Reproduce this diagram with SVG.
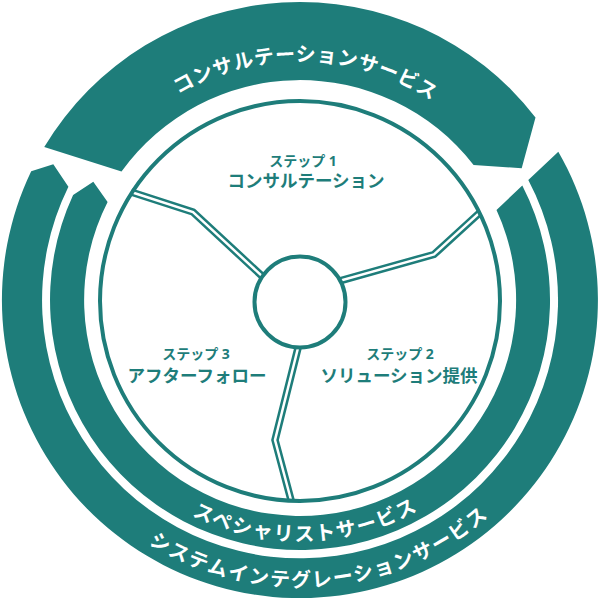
<svg xmlns="http://www.w3.org/2000/svg" width="600" height="600" viewBox="0 0 600 600">
<style>
.band{fill:#1e7d7a}
.ring-label{font-family:'Noto Sans','Noto Sans CJK JP',sans-serif;font-weight:700;font-size:20px;fill:#ffffff;text-anchor:middle}
.step{font-family:'Noto Sans','Noto Sans CJK JP',sans-serif;font-weight:700;font-size:14px;fill:#1e7d7a;text-anchor:middle}
.title{font-family:'Noto Sans','Noto Sans CJK JP',sans-serif;font-weight:700;font-size:17.5px;fill:#1e7d7a;text-anchor:middle}
.spoke-out{fill:none;stroke:#1e7d7a;stroke-width:7.5;stroke-linejoin:miter}
.spoke-in{fill:none;stroke:#ffffff;stroke-width:2.5;stroke-linejoin:miter}
.ring-line{fill:none;stroke:#1e7d7a;stroke-width:4}
</style>
<defs>
<path id="topTextPath" d="M61,300 A239,239 0 0 1 539,300"/>
<path id="midTextPath" d="M59,300 A241,241 0 0 0 541,300"/>
<path id="outerTextPath" d="M13,300 A287,287 0 0 0 587,300"/>
<path id="spoke1" d="M131,192 L193,212 L270,283.5"/>
<path id="spoke2" d="M479.4,212.9 L434,254.5 L331,283.3"/>
<path id="spoke3" d="M300.5,338 L298,348 L275,440 L291.2,500.8"/>
</defs>
<rect width="600" height="600" fill="#ffffff"/>

<g id="consulting-service">
<path class="band" d="M44.25,147 A298,298 0 0 1 535.5,117.4 L521.7,168.3 L473.6,164.9 A220,220 0 0 0 121.5,171.6 Z"/>
<text class="ring-label" letter-spacing="0.6"><textPath href="#topTextPath" startOffset="50.8%">コンサルテーションサービス</textPath></text>
</g>

<g id="system-integration-service">
<path class="band" d="M558.3,151.65 A298,298 0 1 1 31.2,171.3 L53.3,164.3 L68.4,186.7 A258,258 0 1 0 528.3,180 Z"/>
<text class="ring-label" letter-spacing="1.6"><textPath href="#outerTextPath" startOffset="52.6%">システムインテグレーションサービス</textPath></text>
</g>

<g id="specialist-service">
<path class="band" d="M522.3,185.6 A250,250 0 1 1 73.1,195.1 L93.3,181.7 L107.6,202 A216,216 0 1 0 496.5,210 Z"/>
<text class="ring-label" letter-spacing="1.6"><textPath href="#midTextPath" startOffset="50.8%">スペシャリストサービス</textPath></text>
</g>

<g id="connectors">
<use href="#spoke1" class="spoke-out"/>
<use href="#spoke1" class="spoke-in"/>
<use href="#spoke2" class="spoke-out"/>
<use href="#spoke2" class="spoke-in"/>
<use href="#spoke3" class="spoke-out"/>
<use href="#spoke3" class="spoke-in"/>
</g>

<g id="step-circle">
<circle class="ring-line" cx="300" cy="301" r="200"/>
</g>

<g id="hub">
<circle cx="300" cy="302" r="45.5" fill="#ffffff" stroke="#1e7d7a" stroke-width="4"/>
</g>

<g id="step1">
<text class="step" x="303" y="166">ステップ 1</text>
<text class="title" x="306" y="187">コンサルテーション</text>
</g>

<g id="step2">
<text class="step" x="400" y="359">ステップ 2</text>
<text class="title" x="399" y="382">ソリューション提供</text>
</g>

<g id="step3">
<text class="step" x="196" y="359">ステップ 3</text>
<text class="title" x="197" y="382">アフターフォロー</text>
</g>
</svg>
